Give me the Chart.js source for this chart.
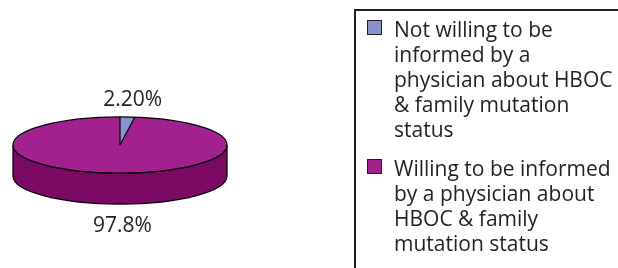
<!DOCTYPE html>
<html>
<head>
<meta charset="utf-8">
<script src="https://cdn.jsdelivr.net/npm/chart.js@4/dist/chart.umd.min.js"></script>
<style>
  html, body { margin: 0; padding: 0; background: #fff; }
  #wrap { position: relative; width: 618px; height: 268px; overflow: hidden; }
  #pie { position: absolute; left: 0; top: 0; }
  #legend {
    position: absolute; left: 354px; top: 9px; width: 300px; height: 300px;
    border: 2px solid #231f20; box-sizing: border-box;
    font-family: "Open Sans", sans-serif; font-size: 21px; line-height: 25px; color: #231f20;
  }
  .item { position: relative; padding-left: 38px; margin-top: 6px; white-space: nowrap; }
  .item + .item { margin-top: 14px; }
  .box {
    position: absolute; left: 11px; top: 3px; width: 15px; height: 15px;
    border: 1.5px solid #231f20; box-sizing: border-box;
  }
</style>
</head>
<body>
<div id="wrap">
  <canvas id="pie" width="618" height="268"></canvas>
  <div id="legend"></div>
</div>
<script>
// data
const labels = [
  ['Not willing to be', 'informed by a', 'physician about HBOC', '& family mutation', 'status'],
  ['Willing to be informed', 'by a physician about', 'HBOC & family', 'mutation status']
];
const values = [2.2, 97.8];
const valueLabels = ['2.20%', '97.8%'];
const topColors = ['#8794cb', '#a3218e'];
const sideColor = '#7a0a63';

const TILT = 0.262;   // vertical squash of the pie
const DEPTH = 31;     // thickness of the pie side

const pie3d = {
  id: 'pie3d',
  beforeDatasetsDraw(chart) {
    const arc = chart.getDatasetMeta(0).data[0];
    const { x, y, outerRadius: r } = arc;
    const ctx = chart.ctx;
    const ry = r * TILT;

    // side of the cylinder
    ctx.save();
    ctx.fillStyle = sideColor;
    ctx.strokeStyle = '#000';
    ctx.lineWidth = 1.2;
    ctx.beginPath();
    ctx.ellipse(x, y + DEPTH, r, ry, 0, 0, Math.PI);
    ctx.lineTo(x - r, y);
    ctx.ellipse(x, y, r, ry, 0, Math.PI, 0, true);
    ctx.closePath();
    ctx.fill();
    ctx.stroke();
    ctx.restore();

    // squash the top face
    ctx.save();
    ctx.translate(0, y);
    ctx.scale(1, TILT);
    ctx.translate(0, -y);
  },
  afterDatasetsDraw(chart) {
    const ctx = chart.ctx;
    ctx.restore();
    const meta = chart.getDatasetMeta(0);
    const { x, y, outerRadius: r } = meta.data[0];
    const ry = r * TILT;

    // outline of the top face and slice edges
    ctx.save();
    ctx.strokeStyle = '#000';
    ctx.lineWidth = 1.2;
    ctx.beginPath();
    ctx.ellipse(x, y, r, ry, 0, 0, Math.PI * 2);
    ctx.stroke();
    meta.data.forEach(a => {
      ctx.beginPath();
      ctx.moveTo(x, y);
      ctx.lineTo(x + Math.cos(a.startAngle) * r, y + Math.sin(a.startAngle) * ry);
      ctx.stroke();
    });

    // value labels
    ctx.fillStyle = '#231f20';
    ctx.font = '21px "Open Sans", sans-serif';
    ctx.textAlign = 'center';
    ctx.textBaseline = 'middle';
    meta.data.forEach((a, i) => {
      const mid = (a.startAngle + a.endAngle) / 2;
      const above = Math.sin(mid) < 0;
      const lx = x + Math.cos(mid) * r * 0.9 + (above ? 6 : 9);
      const ly = above ? y - ry - 17 : y + ry + DEPTH + 22;
      ctx.fillText(valueLabels[i], lx, ly);
    });
    ctx.restore();
  }
};

const chart = new Chart(document.getElementById('pie'), {
  type: 'pie',
  data: {
    labels: labels,
    datasets: [{
      data: values,
      backgroundColor: topColors,
      borderWidth: 0
    }]
  },
  options: {
    responsive: false,
    animation: false,
    events: [],
    layout: { padding: { left: 13, right: 391, top: 38, bottom: 16 } },
    plugins: { legend: { display: false }, tooltip: { enabled: false } }
  },
  plugins: [pie3d]
});

// legend built from the chart's labels and colours
const legend = document.getElementById('legend');
chart.data.labels.forEach((lines, i) => {
  const item = document.createElement('div');
  item.className = 'item';
  const box = document.createElement('span');
  box.className = 'box';
  box.style.background = chart.data.datasets[0].backgroundColor[i];
  item.appendChild(box);
  const text = document.createElement('span');
  text.innerHTML = lines.join('<br>');
  item.appendChild(text);
  legend.appendChild(item);
});
</script>
</body>
</html>
